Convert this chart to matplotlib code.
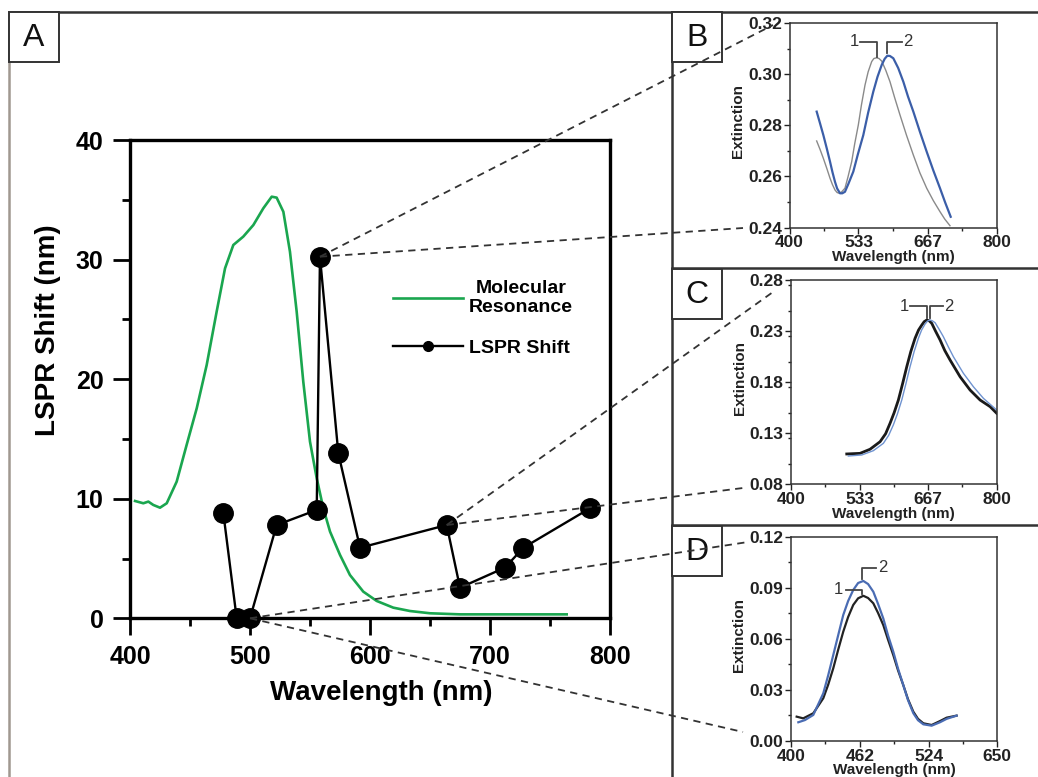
import numpy as np
import matplotlib.pyplot as plt
from matplotlib.lines import Line2D
from matplotlib.patches import Rectangle
from matplotlib.ticker import MultipleLocator, FixedLocator

plt.rcParams['font.family'] = 'Liberation Sans'

# ---- panel A data ----
mol_wl = [404.2, 411.1, 415.3, 419.4, 425.0, 430.6, 438.9, 447.2, 455.6, 463.9, 472.2, 479.2,
          486.1, 494.4, 502.8, 511.1, 518.1, 522.2, 527.8, 533.3, 538.9, 544.4, 550.0, 555.6,
          561.1, 566.7, 575.0, 583.3, 594.4, 605.6, 619.4, 633.3, 650.0, 675.0, 702.8, 730.6, 763.9]
mol_res = [9.81, 9.62, 9.76, 9.48, 9.25, 9.62, 11.43, 14.5, 17.56, 21.18, 25.64, 29.27,
           31.22, 31.92, 32.89, 34.29, 35.26, 35.18, 34.0, 30.66, 25.64, 19.79, 14.77, 11.71,
           9.2, 7.25, 5.3, 3.62, 2.23, 1.45, 0.89, 0.61, 0.42, 0.33, 0.33, 0.33, 0.33]
lspr_wl = [477.8, 488.9, 500.0, 522.2, 555.6, 558.3, 573.6, 591.7, 663.9, 675.0, 712.5, 727.8, 783.3]
lspr_shift = [8.78, 0.0, 0.0, 7.8, 9.06, 30.24, 13.8, 5.9, 7.8, 2.56, 4.24, 5.9, 9.2]

# ---- panel B data ----
b1_wl = [452.5, 459, 465.4, 472, 478.3, 483, 487.9, 492, 496.3, 501, 507.2, 513, 520.2, 526, 533.0,
         539, 545.9, 552, 558.8, 563, 568.5, 573, 578.2, 586, 594.2, 603, 613.5, 626, 639.3, 652,
         665.1, 678, 690.8, 700, 710.1]
b1_ext = [0.2739, 0.2706, 0.2671, 0.2632, 0.2593, 0.2568, 0.2547, 0.2537, 0.2534, 0.2540, 0.2554,
          0.2598, 0.2658, 0.2728, 0.2802, 0.2880, 0.2958, 0.3010, 0.3050, 0.3062, 0.3065, 0.3062,
          0.3052, 0.3016, 0.2971, 0.2910, 0.2841, 0.2762, 0.2684, 0.2614, 0.2554, 0.2505, 0.2462,
          0.2433, 0.2407]
b2_wl = [452.5, 459, 465.4, 472, 478.3, 483, 487.9, 492, 497.6, 502, 507.2, 514, 523.3, 532, 542.6,
         552, 561.9, 570, 578.2, 584, 589.0, 594, 600.6, 610, 620.0, 629, 639.3, 652, 665.1, 678,
         690.8, 701, 711.5]
b2_ext = [0.2854, 0.2808, 0.2762, 0.2710, 0.2658, 0.2617, 0.2579, 0.2553, 0.2534, 0.2534, 0.2540,
          0.2572, 0.2619, 0.2686, 0.2762, 0.2850, 0.2932, 0.2990, 0.3037, 0.3061, 0.3073, 0.3072,
          0.3063, 0.3025, 0.2971, 0.2913, 0.2854, 0.2775, 0.2697, 0.2623, 0.2554, 0.2497, 0.2442]

# ---- panel C data ----
c1_wl = [508.4, 534.2, 553.7, 573.2, 584, 592.6, 600.5, 608.8, 617, 625.1, 633, 641.2, 648, 654.3,
         659, 664.0, 669, 673.7, 681, 689.9, 699, 709.3, 728.8, 748.2, 767.7, 787.2, 800.0]
c1_ext = [0.1097, 0.1103, 0.1143, 0.1217, 0.1295, 0.1397, 0.1500, 0.1625, 0.1785, 0.1951, 0.2100,
          0.2229, 0.2310, 0.2359, 0.2392, 0.2408, 0.2400, 0.2376, 0.2300, 0.2213, 0.2110, 0.2017,
          0.1853, 0.1723, 0.1625, 0.1560, 0.1495]
c2_wl = [511.5, 537.5, 560.1, 579.6, 590, 599.0, 607, 615.4, 623.5, 631.5, 639.5, 647.7, 654, 660.7,
         665.5, 670.4, 675, 680.2, 688, 696.3, 706, 715.8, 735.2, 754.7, 774.1, 800.0]
c2_ext = [0.1077, 0.1087, 0.1129, 0.1201, 0.1280, 0.1381, 0.1490, 0.1625, 0.1785, 0.1951, 0.2100,
          0.2229, 0.2310, 0.2369, 0.2398, 0.2408, 0.2400, 0.2382, 0.2318, 0.2245, 0.2145, 0.2049,
          0.1887, 0.1755, 0.1642, 0.1527]

# ---- panel D data (axis labelled 400/462/524/650) ----
d1_wl = [405.1, 411.0, 420.1, 429.1, 433.5, 438.1, 442.5, 447.1, 451.5, 456.1, 460.5, 465.2, 469.5,
         474.2, 478.5, 483.2, 487.5, 492.2, 496.5, 501.2, 505.5, 510.3, 514.5, 519.3, 526.8, 534.3,
         540.3, 549.3]
d1_ext = [0.0143, 0.0133, 0.0163, 0.0251, 0.0330, 0.0427, 0.0535, 0.0642, 0.0728, 0.0799, 0.0838,
          0.0853, 0.0840, 0.0809, 0.0752, 0.0681, 0.0595, 0.0505, 0.0415, 0.0329, 0.0245, 0.0172,
          0.0130, 0.0104, 0.0094, 0.0117, 0.0137, 0.0149]
d2_wl = [406.6, 412.6, 420.1, 429.1, 433.5, 438.1, 442.5, 447.1, 451.5, 456.1, 460.5, 465.2, 469.5,
         474.2, 478.5, 483.2, 487.5, 492.2, 496.5, 501.2, 505.5, 510.3, 514.5, 519.3, 526.8, 534.3,
         540.3, 549.3]
d2_ext = [0.0110, 0.0123, 0.0153, 0.0280, 0.0385, 0.0505, 0.0620, 0.0740, 0.0822, 0.0887, 0.0928,
          0.0940, 0.0922, 0.0877, 0.0805, 0.0720, 0.0620, 0.0525, 0.0425, 0.0329, 0.0240, 0.0163,
          0.0122, 0.0098, 0.0090, 0.0110, 0.0130, 0.0149]

W, H = 1038, 777


def fx(x):
    return x / W


def fy(y):
    return 1 - y / H


fig = plt.figure(figsize=(W / 100, H / 100), dpi=100)

# ---------------- panel A ----------------
axA = fig.add_axes([fx(130), fy(618.3), 480 / W, 478.3 / H])
axA.plot(mol_wl, mol_res, color='#1aa64f', lw=1.9, label='Molecular\nResonance')
axA.plot(lspr_wl, lspr_shift, '-o', color='k', lw=1.7, ms=14, clip_on=False, zorder=3, label='LSPR Shift')
axA.set_xlim(400, 800)
axA.set_ylim(0, 40)
axA.xaxis.set_major_locator(MultipleLocator(100))
axA.xaxis.set_minor_locator(MultipleLocator(50))
axA.yaxis.set_major_locator(MultipleLocator(10))
axA.yaxis.set_minor_locator(MultipleLocator(5))
axA.tick_params(which='major', direction='out', length=12, width=2, labelsize=18, pad=7)
axA.tick_params(which='minor', direction='out', length=6, width=2)
for lab in axA.get_xticklabels() + axA.get_yticklabels():
    lab.set_fontweight('bold')
for s in axA.spines.values():
    s.set_linewidth(2.4)
leg = axA.legend(loc='upper left', bbox_to_anchor=(0.548, 0.708), frameon=False,
                 prop={'weight': 'bold', 'size': 14}, handlelength=3.6, handletextpad=0.3,
                 labelspacing=1.2, markerscale=0.5, borderpad=0, borderaxespad=0)
for t in leg.get_texts():
    t.set_multialignment('center')
fig.text(fx(381), fy(693), 'Wavelength (nm)', ha='center', va='center', fontsize=20, fontweight='bold')
fig.text(fx(48), fy(330), 'LSPR Shift (nm)', ha='center', va='center', rotation=90,
         fontsize=20, fontweight='bold')


# ---------------- insets ----------------
def inset(rect, ylim, ystep, yfmt, xlim, xticks, xlabels, xminor):
    ax = fig.add_axes(rect)
    ax.set_xlim(*xlim)
    ax.set_ylim(*ylim)
    ax.set_yticks(np.arange(ylim[0], ylim[1] + ystep / 2, ystep))
    ax.yaxis.set_minor_locator(MultipleLocator(ystep / 2))
    ax.set_yticklabels([yfmt % v for v in ax.get_yticks()])
    ax.set_xticks(xticks)
    ax.set_xticklabels(xlabels)
    ax.xaxis.set_minor_locator(FixedLocator(xminor))
    ax.tick_params(which='major', direction='out', length=4, width=1, labelsize=12.5, pad=1.5, colors='#222')
    ax.tick_params(which='minor', direction='out', length=2.5, width=1, colors='#222')
    for lab in ax.get_xticklabels() + ax.get_yticklabels():
        lab.set_fontweight('bold')
    for s in ax.spines.values():
        s.set_linewidth(1.1)
        s.set_color('#333')
    ax.set_xlabel('Wavelength (nm)', fontsize=11, fontweight='bold', color='#222')
    ax.xaxis.set_label_coords(0.5, -0.143)
    ax.xaxis.label.set_va('center')
    ax.set_ylabel('Extinction', fontsize=11, fontweight='bold', color='#222')
    ax.yaxis.set_label_coords(-0.25, 0.52)
    ax.yaxis.label.set_va('center')
    return ax


def bracket(ax, x0, y0, ytop, x1, txt, side):
    ax.plot([x0, x0, x1], [y0, ytop, ytop], color='#444', lw=1.3, clip_on=False)
    if side == 'left':
        ax.text(x1 - 2, ytop, txt, ha='right', va='center', fontsize=12, color='#333')
    else:
        ax.text(x1 + 2, ytop, txt, ha='left', va='center', fontsize=12, color='#333')


thirds = [400, 533.33, 666.67, 800]
axB = inset([fx(789.5), fy(227.5), 207 / W, 204.2 / H], (0.24, 0.32), 0.02, '%.2f',
            (400, 800), thirds, ['400', '533', '667', '800'], [466.67, 600, 733.33])
axB.plot(b1_wl, b1_ext, color='#8a8a8a', lw=1.0)
axB.plot(b2_wl, b2_ext, color='#3b5ea8', lw=1.6)
i1, i2 = int(np.argmax(b1_ext)), int(np.argmax(b2_ext))
bracket(axB, b1_wl[i1], b1_ext[i1] + 0.0004, 0.3128, b1_wl[i1] - 32, '1', 'left')
bracket(axB, b2_wl[i2], b2_ext[i2] + 0.0009, 0.3128, b2_wl[i2] + 28, '2', 'right')

axC = inset([fx(791), fy(484.3), 205.7 / W, 204.3 / H], (0.08, 0.28), 0.05, '%.2f',
            (400, 800), thirds, ['400', '533', '667', '800'], [466.67, 600, 733.33])
axC.plot(c1_wl, c1_ext, color='#1a1a1a', lw=2.0)
axC.plot(c2_wl, c2_ext, color='#6f93d0', lw=1.0)
i1, i2 = int(np.argmax(c1_ext)), int(np.argmax(c2_ext))
bracket(axC, c1_wl[i1], c1_ext[i1] + 0.002, 0.2545, c1_wl[i1] - 32, '1', 'left')
bracket(axC, c2_wl[i2], c2_ext[i2] + 0.002, 0.2545, c2_wl[i2] + 26, '2', 'right')

axD = inset([fx(791), fy(741), 206.3 / W, 204.3 / H], (0.0, 0.12), 0.03, '%.2f',
            (400, 586), [400, 462, 524, 586], ['400', '462', '524', '650'], [431, 493, 555])
axD.plot(d1_wl, d1_ext, color='#222222', lw=1.6)
axD.plot(d2_wl, d2_ext, color='#4a6cb3', lw=1.6)
i1, i2 = int(np.argmax(d1_ext)), int(np.argmax(d2_ext))
bracket(axD, d1_wl[i1] - 1, d1_ext[i1] + 0.0008, 0.0887, d1_wl[i1] - 16, '1', 'left')
bracket(axD, d2_wl[i2] - 1, d2_ext[i2] + 0.001, 0.1018, d2_wl[i2] + 11, '2', 'right')

# ---------------- frame, label boxes ----------------
frame = [((9, 12), (1038, 12), '#333333'), ((9, 12), (9, 777), '#a09890'),
         ((672, 12), (672, 777), '#333333'), ((672, 268), (1038, 268), '#333333'),
         ((672, 525), (1038, 525), '#333333')]
for (x0, y0), (x1, y1), col in frame:
    fig.add_artist(Line2D([fx(x0), fx(x1)], [fy(y0), fy(y1)], transform=fig.transFigure,
                          color=col, lw=1.8, zorder=4))

for letter, (x0, y0) in zip('ABCD', [(9, 12), (672, 12), (672, 269), (672, 526)]):
    fig.add_artist(Rectangle((fx(x0), fy(y0 + 50)), 50 / W, 50 / H, transform=fig.transFigure,
                             facecolor='white', edgecolor='#333333', lw=1.4, zorder=4))
    fig.text(fx(x0 + 25), fy(y0 + 26), letter, ha='center', va='center', fontsize=23,
             color='#111', zorder=5)

# ---------------- dashed zoom lines ----------------
zoom_lines = [((558.3, 30.24), [(773, 25), (743, 228)]),
              ((663.9, 7.8), [(773, 292), (743, 488)]),
              ((500.0, 0.0), [(748, 542), (743, 732)])]
to_fig = fig.transFigure.inverted()
for pt, targets in zoom_lines:
    p = to_fig.transform(axA.transData.transform(pt))
    for tx, ty in targets:
        fig.add_artist(Line2D([p[0], fx(tx)], [p[1], fy(ty)], transform=fig.transFigure,
                              color='#333333', lw=1.3, ls=(0, (4, 3)), zorder=6))

fig.savefig('out.png', dpi=100)
